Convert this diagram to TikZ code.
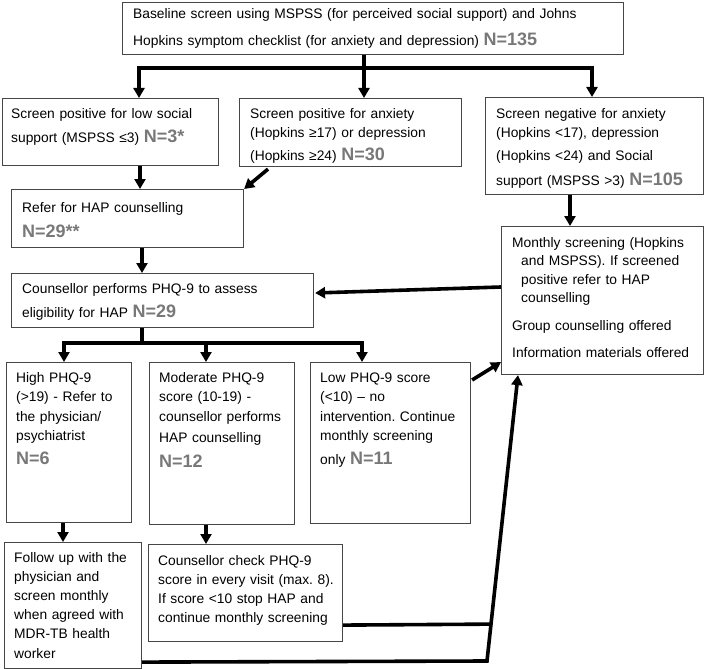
\documentclass[tikz,border=0pt]{standalone}
\usepackage{fontspec}
\setmainfont{Liberation Sans}
\usetikzlibrary{arrows.meta,calc}
\definecolor{ngray}{RGB}{120,120,120}
\definecolor{bordergray}{RGB}{70,70,70}
\newcommand\NN[1]{{\fontsize{18}{19}\selectfont\bfseries\color{ngray}#1}}
\frenchspacing
\begin{document}
\begin{tikzpicture}[x=1pt,y=-1pt,
  font=\fontsize{13.8}{19.5}\selectfont,
  box/.style={draw=bordergray,line width=1.1pt,inner sep=0pt,anchor=north west,rectangle},
  txt/.style={anchor=base west,inner sep=0pt,align=left,text width=480pt},
  line/.style={line width=3.6pt},
  arr/.style={line width=3.6pt,-{Triangle[length=10pt,width=11pt]}}]
\useasboundingbox (0,0) rectangle (718,669);

% boxes
\node[box,minimum width=501pt,minimum height=52pt] (b1) at (122,2) {};
\node[box,minimum width=216pt,minimum height=67pt] (b2) at (2,98) {};
\node[box,minimum width=222pt,minimum height=68pt] (b3) at (239,98) {};
\node[box,minimum width=218pt,minimum height=97pt] (b4) at (485,97) {};
\node[box,minimum width=232pt,minimum height=58pt] (b5) at (11,189) {};
\node[box,minimum width=202pt,minimum height=148pt] (b6) at (501,226) {};
\node[box,minimum width=302pt,minimum height=54pt] (b7) at (11,273) {};
\node[box,minimum width=125pt,minimum height=160pt] (b8) at (6,362) {};
\node[box,minimum width=145pt,minimum height=162pt] (b9) at (149,362) {};
\node[box,minimum width=160pt,minimum height=161pt] (b10) at (310,362) {};
\node[box,minimum width=137pt,minimum height=126pt] (b11) at (4,542) {};
\node[box,minimum width=194pt,minimum height=97pt] (b12) at (148,544) {};

% texts
\node[txt] (t1) at (133,19) {Baseline screen using MSPSS (for perceived social support) and Johns\\[7pt]
Hopkins symptom checklist (for anxiety and depression) \NN{N=135}};
\node[txt] (t2) at (11,118) {Screen positive for low social\\[5pt]
support (MSPSS ≤3) \NN{N=3*}};
\node[txt] (t3) at (250,118) {Screen positive for anxiety\\
(Hopkins ≥17) or depression\\[4pt]
(Hopkins ≥24) \NN{N=30}};
\node[txt] (t4) at (496,118) {Screen negative for anxiety\\
(Hopkins <17), depression\\[3pt]
(Hopkins <24) and Social\\[6pt]
support (MSPSS >3) \NN{N=105}};
\node[txt] (t5) at (22,212) {Refer for HAP counselling\\[6pt]
\NN{N=29**}};
\node[txt,font=\fontsize{13.8}{18.5}\selectfont] (t6) at (512,247) {Monthly screening (Hopkins\\
\hspace*{9pt}and MSPSS). If screened\\
\hspace*{9pt}positive refer to HAP\\
\hspace*{9pt}counselling\\[9.5pt]
Group counselling offered\\[8.5pt]
Information materials offered};
\node[txt] (t7) at (22,293) {Counsellor performs PHQ-9 to assess\\[5pt]
eligibility for HAP \NN{N=29}};
\node[txt] (t8) at (16,382) {High PHQ-9\\
(>19) - Refer to\\
the physician/\\
psychiatrist\\[4pt]
\NN{N=6}};
\node[txt] (t9) at (159,382) {Moderate PHQ-9\\
score (10-19) -\\
counsellor performs\\[2pt]
HAP counselling\\[5pt]
\NN{N=12}};
\node[txt] (t10) at (320,382) {Low PHQ-9 score\\
(<10) – no\\
intervention. Continue\\
monthly screening\\[4pt]
only \NN{N=11}};
\node[txt,font=\fontsize{13.8}{19.2}\selectfont] (t11) at (14,562) {Follow up with the\\
physician and\\
screen monthly\\
when agreed with\\
MDR-TB health\\
worker};
\node[txt,font=\fontsize{13.8}{19}\selectfont] (t12) at (158,565) {Counsellor check PHQ-9\\
score in every visit (max. 8).\\
If score <10 stop HAP and\\
continue monthly screening};

% top branching
\coordinate (j1) at (364,68);
\coordinate (jL) at (139,68);
\coordinate (jR) at (592,68);
\draw[line] (b1.south -| j1) -- (j1);
\draw[line,line cap=rect] (jL) -- (jR);
\draw[arr] (jL) -- (jL |- b2.north);
\draw[arr] (j1) -- (j1 |- b3.north);
\draw[arr] (jR) -- (jR |- b4.north);

% to refer box
\draw[arr] ($(b2.south west)+(138,0)$) coordinate (p2) -- (p2 |- b5.north);
\draw[arr] ($(b3.south west)+(29,2)$) -- (b5.north east);
% negative -> monthly
\draw[arr] ($(b4.south west)+(85,0)$) coordinate (p4) -- (p4 |- b6.north);
% refer -> counsellor
\draw[arr] ($(b5.south west)+(131,0)$) coordinate (p5) -- (p5 |- b7.north);
% monthly -> counsellor
\draw[arr] ($(b6.north west)+(0,61)$) -- ($(b7.north east)+(1,20)$);

% second branching
\coordinate (k1) at (142,343);
\coordinate (kL) at (64,343);
\coordinate (kM) at (206,343);
\coordinate (kR) at (362,343);
\draw[line] (b7.south -| k1) -- (k1);
\draw[line,line cap=rect] (kL) -- (kR);
\draw[arr] (kL) -- (kL |- b8.north);
\draw[arr] (kM) -- (kM |- b9.north);
\draw[arr] (kR) -- (kR |- b10.north);

% low -> monthly
\draw[arr] ($(b10.north east)+(1,18)$) -- ($(b6.south west)+(0,-13)$);

% down arrows
\draw[arr] ($(b8.south west)+(57,0)$) coordinate (p8) -- (p8 |- b11.north);
\draw[arr] ($(b9.south west)+(57,0)$) coordinate (p9) -- (p9 |- b12.north);

% bottom return lines
\coordinate (m1) at (487,661);
\coordinate (m3) at ($(b6.south west)+(17,0)$);
\draw[arr] ($(b11.south east)+(0,-7)$) -- (m1) -- (m3);
\draw[line] ($(b12.south east)+(0,-17)$) -- ($(m1)!0.129!(m3)$);
\end{tikzpicture}
\end{document}
